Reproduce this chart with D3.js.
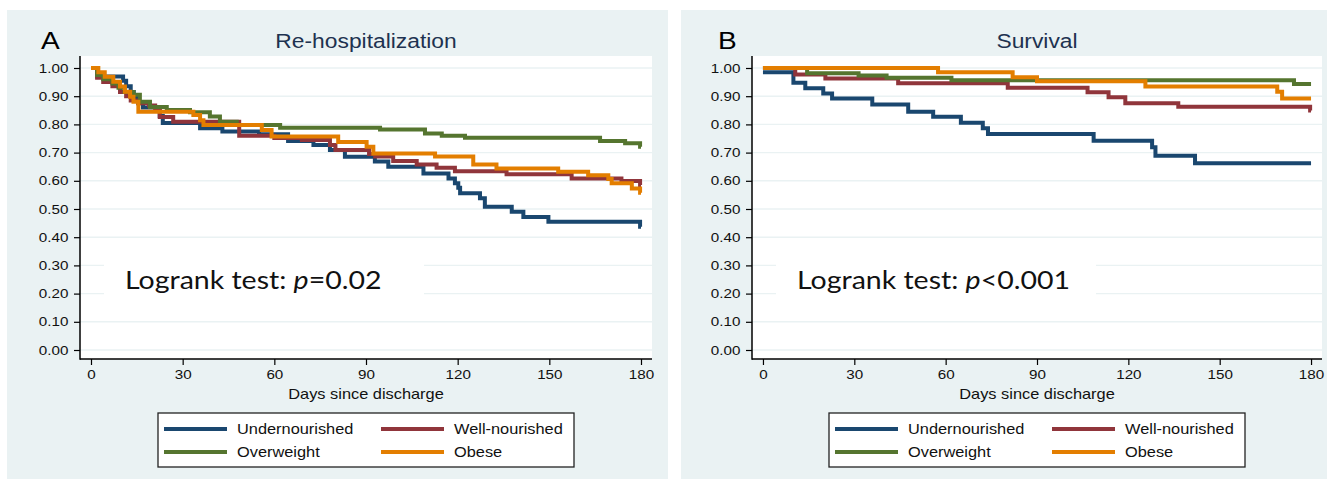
<!DOCTYPE html>
<html>
<head>
<meta charset="utf-8">
<script src="https://cdn.jsdelivr.net/npm/d3@7"></script>
<style>
body { margin: 0; background: #fff; }
text { font-family: "Liberation Sans", Arial, sans-serif; }
</style>
</head>
<body>
<svg id="chart" width="1328" height="483"></svg>
<script>
const groups = ["Undernourished", "Well-nourished", "Overweight", "Obese"];
const xTicks = [0, 30, 60, 90, 120, 150, 180];
const yTicks = [0, 0.1, 0.2, 0.3, 0.4, 0.5, 0.6, 0.7, 0.8, 0.9, 1.0];
const panelLetters = ["A", "B"];
const panelTitles = ["Re-hospitalization", "Survival"];
const logrankP = ["=0.02", "<0.001"];

// [day, estimate] at each step of the Kaplan-Meier curve
const rehospUnder = [[0,1],[2,0.97],[10.5,0.955],[11.5,0.935],[13,0.915],[14,0.895],[15.5,0.875],[17,0.86],[22.5,0.83],[23.5,0.805],[35.7,0.786],[43,0.775],[55,0.765],[64.5,0.741],[72.8,0.727],[78.2,0.709],[83.1,0.685],[92.9,0.668],[97.3,0.65],[108.8,0.626],[117,0.608],[119.1,0.591],[120.2,0.575],[120.8,0.556],[127.3,0.538],[128.9,0.508],[137.7,0.49],[141.5,0.472],[149.7,0.455],[179.7,0.437],[180,0.437]];
const rehospWell = [[0,1],[2,0.965],[4,0.95],[7,0.935],[9.5,0.915],[11.5,0.9],[13,0.885],[15.5,0.875],[19,0.867],[21,0.855],[22.5,0.826],[26.9,0.809],[48.5,0.76],[60,0.752],[69,0.745],[78.2,0.727],[80,0.709],[91,0.695],[93,0.686],[98.9,0.67],[106.6,0.658],[113.1,0.646],[119.1,0.634],[136,0.623],[157.3,0.608],[173.6,0.599],[179.7,0.585],[180,0.585]];
const rehospOver = [[0,1],[2,0.975],[4,0.96],[7,0.945],[9,0.93],[11,0.915],[13.9,0.905],[16,0.88],[19.3,0.862],[24.8,0.851],[32.4,0.843],[38.9,0.828],[42.2,0.809],[47.7,0.798],[61.9,0.788],[94.6,0.782],[109.3,0.768],[114.8,0.76],[122.4,0.753],[166.6,0.741],[174.8,0.733],[179.7,0.721],[180,0.721]];
const rehospObese = [[0,1],[2.4,0.985],[4.5,0.969],[7.3,0.951],[9.5,0.934],[11.1,0.916],[12.8,0.898],[13.9,0.88],[15.5,0.845],[33.5,0.833],[35.7,0.815],[36.8,0.798],[55.9,0.78],[59.1,0.757],[80.9,0.738],[90.2,0.721],[92.4,0.697],[112.6,0.686],[125.1,0.658],[132.7,0.644],[152.9,0.632],[162.7,0.62],[169.3,0.606],[170.4,0.591],[177,0.573],[179.7,0.558],[180,0.558]];

const survUnder = [[0,0.985],[10,0.948],[13.9,0.928],[19.8,0.91],[22.7,0.892],[35.9,0.871],[47.7,0.845],[55.9,0.827],[65,0.806],[72.2,0.786],[73.9,0.766],[108.6,0.742],[127.8,0.719],[128.9,0.689],[141.9,0.662],[180,0.662]];
const survWell = [[0,1],[10.6,0.977],[20.5,0.963],[44.4,0.946],[80.4,0.93],[106.6,0.914],[113.5,0.896],[119,0.875],[136.4,0.863],[179.7,0.849],[180,0.849]];
const survOver = [[0,1],[14.5,0.981],[31.4,0.973],[40.6,0.965],[61.9,0.957],[174.4,0.943],[180,0.943]];
const survObese = [[0,1],[57.5,0.985],[82,0.967],[90,0.953],[125.6,0.934],[168.9,0.916],[170.5,0.892],[180,0.892]];

const panelSeries = [
    [rehospUnder, rehospWell, rehospOver, rehospObese],
    [survUnder, survWell, survOver, survObese]
];

// Stata s2color look
const colors = ["#1a476f", "#90353b", "#55752f", "#e37e00"];
const bgColor = "#eaf2f3";
const SX = 1.17; // the picture is stretched horizontally a bit
const plotTop = 56, plotBottom = 359;

const layout = [
    {bgX: 7, bgW: 661, plotX: 80, plotW: 572, letterX: 41},
    {bgX: 681, bgW: 646, plotX: 752, plotW: 570, letterX: 718}
];

const svg = d3.select("#chart");

const stretchedText = (g, x, y, str, size, anchor) => g.append("text")
    .attr("transform", `translate(${x},${y}) scale(${SX},1)`)
    .attr("text-anchor", anchor)
    .style("font-size", size + "px")
    .text(str);

layout.forEach((L, i) => {
    let g = svg.append("g");

    g.append("rect").attr("x", L.bgX).attr("y", 10).attr("width", L.bgW).attr("height", 469).attr("fill", bgColor);
    g.append("rect").attr("x", L.plotX).attr("y", plotTop).attr("width", L.plotW).attr("height", plotBottom - plotTop).attr("fill", "#fff");

    let xScale = d3.scaleLinear().domain([-3.6, 183.6]).range([L.plotX, L.plotX + L.plotW]);
    let yScale = d3.scaleLinear().domain([0, 1]).range([350, 68]);
    let cx = L.plotX + L.plotW / 2;

    //gridlines
    g.append("g").selectAll("line").data(yTicks).join("line")
        .attr("x1", L.plotX).attr("x2", L.plotX + L.plotW)
        .attr("y1", d => yScale(d)).attr("y2", d => yScale(d))
        .attr("stroke", bgColor).attr("stroke-width", 1.4);

    //white box behind the logrank note
    g.append("rect").attr("x", L.plotX + 24).attr("y", 252).attr("width", 320).attr("height", 46).attr("fill", "#fff");
    let note = g.append("text")
        .attr("transform", `translate(${L.plotX + 45},289) scale(1.14,1)`)
        .style("font-family", "Lato, 'Open Sans', sans-serif")
        .style("font-size", "25px")
        .attr("fill", "#111");
    note.append("tspan").text("Logrank test: ");
    note.append("tspan").style("font-style", "italic").text("p");
    note.append("tspan").text(logrankP[i]);

    //curves
    let line = d3.line()
        .x(d => xScale(d[0]))
        .y(d => yScale(d[1]))
        .curve(d3.curveStepAfter);
    panelSeries[i].forEach((s, k) => {
        g.append("path").attr("d", line(s)).attr("fill", "none")
            .attr("stroke", colors[k]).attr("stroke-width", 4);
    });

    //axes
    let yAxis = g.append("g").attr("transform", `translate(${L.plotX},0)`)
        .call(d3.axisLeft(yScale).tickValues(yTicks).tickFormat(d3.format(".2f")).tickSize(6).tickSizeOuter(0));
    let xAxis = g.append("g").attr("transform", `translate(0,${plotBottom})`)
        .call(d3.axisBottom(xScale).tickValues(xTicks).tickSize(6).tickSizeOuter(0));
    [yAxis, xAxis].forEach(a => {
        a.select(".domain").remove();
        a.attr("font-family", "'Liberation Sans', Arial, sans-serif").attr("font-size", 13);
        a.selectAll(".tick line").attr("stroke", "#000").attr("stroke-width", 1.2);
        a.selectAll(".tick text").attr("fill", "#111");
    });
    yAxis.selectAll(".tick text").attr("transform", `scale(${SX},1)`).attr("x", -11.6 / SX);
    xAxis.selectAll(".tick text").attr("transform", `scale(${SX},1)`).attr("y", 11);

    g.append("line").attr("x1", L.plotX).attr("x2", L.plotX).attr("y1", plotTop).attr("y2", plotBottom + 0.7)
        .attr("stroke", "#000").attr("stroke-width", 1.5);
    g.append("line").attr("x1", L.plotX).attr("x2", L.plotX + L.plotW).attr("y1", plotBottom).attr("y2", plotBottom)
        .attr("stroke", "#000").attr("stroke-width", 1.5);

    //titles
    stretchedText(g, L.letterX, 49, panelLetters[i], 24, "start").attr("fill", "#000");
    stretchedText(g, cx, 48, panelTitles[i], 19.5, "middle").attr("fill", "#1e3250");
    stretchedText(g, cx, 399, "Days since discharge", 14, "middle").attr("fill", "#111");

    //legend
    let lx = cx - 208;
    g.append("rect").attr("x", lx).attr("y", 413).attr("width", 416).attr("height", 54)
        .attr("fill", "#fff").attr("stroke", "#222").attr("stroke-width", 1.3);
    groups.forEach((name, k) => {
        let col = k % 2, row = Math.floor(k / 2);
        let ox = lx + 6 + col * 217;
        let oy = 429 + row * 23;
        g.append("line").attr("x1", ox).attr("x2", ox + 63).attr("y1", oy).attr("y2", oy)
            .attr("stroke", colors[k]).attr("stroke-width", 4);
        stretchedText(g, ox + 73, oy + 5, name, 14, "start").attr("fill", "#111");
    });
});
</script>
</body>
</html>
